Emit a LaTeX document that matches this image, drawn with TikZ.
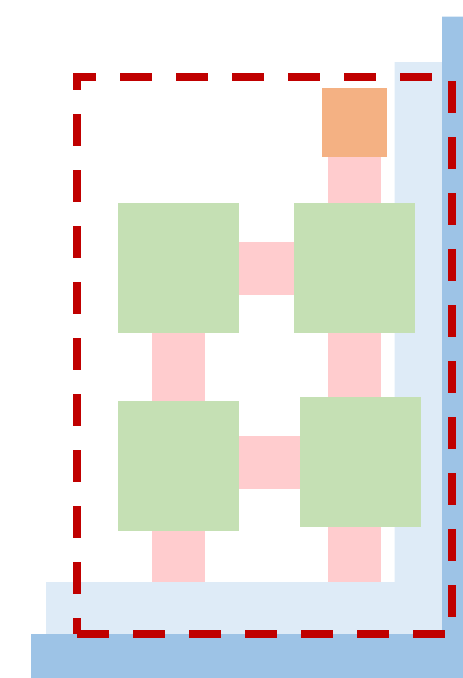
\documentclass[tikz,border=0pt]{standalone}
\definecolor{steelblue}{HTML}{9DC3E6}
\definecolor{paleblue}{HTML}{DEEBF7}
\definecolor{peach}{HTML}{F4B183}
\definecolor{sage}{HTML}{C5E0B4}
\definecolor{blush}{HTML}{FFCCCE}
\definecolor{darkred}{HTML}{C00000}
\begin{document}
\begin{tikzpicture}[x=1pt,y=-1pt,
  cell/.style={fill=sage},
  link/.style={fill=blush},
  top/.style={fill=peach},
  frameline/.style={draw=darkred,line width=7.7pt,dash pattern=on 32pt off 24pt}]
\useasboundingbox (0,0) rectangle (463,678);
% light blue L
\fill[paleblue] (46,582) -- (394.5,582) -- (394.5,62) -- (442,62) -- (442,634) -- (46,634) -- cycle;
% dark blue L
\fill[steelblue] (442,16.5) -- (463,16.5) -- (463,678) -- (31,678) -- (31,634) -- (442,634) -- cycle;
% pink links
\fill[link] (327.7,156.7) rectangle (381,203);
\fill[link] (238.7,242) rectangle (294,295);
\fill[link] (152,332.7) rectangle (205.3,401);
\fill[link] (327.7,332.7) rectangle (381,397);
\fill[link] (238.7,436) rectangle (300,489);
\fill[link] (152,530.7) rectangle (205.3,582);
\fill[link] (327.7,526.7) rectangle (381,582);
% green cells
\fill[cell] (117.7,203) rectangle (238.7,332.7);
\fill[cell] (294,203) rectangle (415,332.7);
\fill[cell] (117.7,401) rectangle (238.7,530.7);
\fill[cell] (300,397) rectangle (420.7,526.7);
% orange
\fill[top] (321.7,87.7) rectangle (386.7,156.7);
% red dashed frame
\draw[frameline] (77,633.7) -- (452,633.7) -- (452,77) -- (77,77) -- cycle;
\end{tikzpicture}
\end{document}
